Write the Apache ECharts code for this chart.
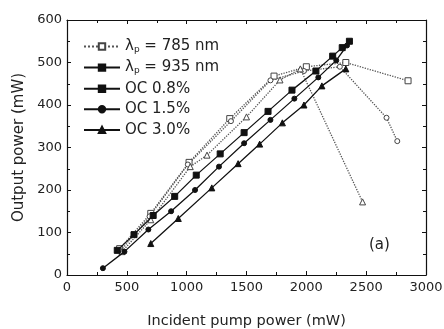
<!DOCTYPE html>
<html><head><meta charset="utf-8">
<script src="https://cdn.jsdelivr.net/npm/echarts@6/dist/echarts.min.js"></script>
<style>html,body{margin:0;padding:0;background:#fff}#c{width:444px;height:329px}</style>
</head><body><div id="c"></div>
<script>
// 785 nm pumping (dotted, open symbols)
const p785_oc08 = [[440,62],[700,145],[1020,265],[1360,368],[1730,468],[2000,490],[2330,500],[2850,457]];
const p785_oc15 = [[450,58],[690,138],[1010,260],[1370,362],[1700,458],[1980,480],[2280,490],[2670,370],[2760,315]];
const p785_oc30 = [[460,55],[700,130],[1030,255],[1170,282],[1500,372],[1780,459],[1950,485],[2470,172]];
// 935 nm pumping (solid, filled symbols)
const p935_oc08 = [[420,58],[560,95],[720,140],[900,185],[1080,235],[1280,285],[1480,335],[1680,385],[1880,435],[2080,480],[2220,515],[2300,535],[2360,550]];
const p935_oc15 = [[300,16],[480,55],[680,107],[870,150],[1070,200],[1270,255],[1480,310],[1700,365],[1900,415],[2100,465],[2250,505],[2340,540]];
const p935_oc30 = [[700,74],[930,133],[1210,205],[1430,262],[1610,308],[1800,358],[1980,400],[2130,445],[2330,485]];
const xTicks = [0,500,1000,1500,2000,2500,3000];
const yTicks = [0,100,200,300,400,500,600];
const legendNames = ['785','935','OC 0.8%','OC 1.5%','OC 3.0%'];

const chart = echarts.init(document.getElementById('c'));
const font = 'DejaVu Sans, sans-serif';
const txt = '#222';
function axisBase(pos, isX, showLabel){
  return {
    type:'value', position:pos, min:isX?xTicks[0]:yTicks[0], max:isX?xTicks[xTicks.length-1]:yTicks[yTicks.length-1],
    interval:isX?500:100,
    axisLine:{show:true,onZero:false,lineStyle:{color:'#111',width:1.2}},
    axisTick:{show:true,inside:true,length:4,lineStyle:{color:'#111'}},
    minorTick:{show:true,splitNumber:2,length:3,lineStyle:{color:'#111'}},
    splitLine:{show:false},
    axisLabel:{show:showLabel,color:txt,fontFamily:font,fontSize:13,margin:isX?6:5,formatter:function(v){return String(v);}},
  };
}
const dotted = {type:'dotted',width:1.3,color:'#555'};
const solid = {type:'solid',width:1.3,color:'#111'};
function s(name,data,sym,filled,line,size){
  return {name:name,type:'line',data:data,symbol:sym,symbolSize:size||6,
    lineStyle:line,
    itemStyle:{color:filled?'#111':'#fff',borderColor:filled?'#111':'#444',borderWidth:1},
    z: filled?3:2, animation:false};
}
const option = {
  backgroundColor:'#fff',
  animation:false,
  grid:{left:67,right:18,top:20,bottom:54,containLabel:false,outerBoundsMode:'none'},
  xAxis:[Object.assign(axisBase('bottom',true,true),{name:'Incident pump power (mW)',nameLocation:'middle',nameGap:39,nameTextStyle:{color:txt,fontFamily:font,fontSize:14.5}}),
         axisBase('top',true,false)],
  yAxis:[Object.assign(axisBase('left',false,true),{name:'Output power (mW)',nameLocation:'middle',nameGap:40,nameTextStyle:{color:txt,fontFamily:font,fontSize:15}}),
         axisBase('right',false,false)],
  legend:{
    data:legendNames, orient:'vertical', left:83, top:39, padding:0, itemWidth:36, itemHeight:8, itemGap:5.6,
    textStyle:{color:txt,fontFamily:font,fontSize:15,
      rich:{a:{fontFamily:font,fontSize:15,color:txt},s:{fontFamily:font,fontSize:9,color:txt,padding:[7,0,0,0]}}},
    formatter:function(n){
      if(n==='785') return '{a|λ}{s|p}{a| = 785 nm}';
      if(n==='935') return '{a|λ}{s|p}{a| = 935 nm}';
      return n;
    },
    selectedMode:false
  },
  graphic:[{type:'text',left:369,top:238,style:{text:'(a)',fontFamily:font,fontSize:15,fill:txt}}],
  series:[
    s('785',p785_oc08,'rect',false,dotted,6),
    s('785b',p785_oc15,'circle',false,dotted,5),
    s('785c',p785_oc30,'triangle',false,dotted,6),
    s('935',[],'rect',true,solid,6),
    s('OC 0.8%',p935_oc08,'rect',true,solid,6),
    s('OC 1.5%',p935_oc15,'circle',true,solid,5),
    s('OC 3.0%',p935_oc30,'triangle',true,solid,6),
  ]
};
chart.setOption(option);
</script></body></html>
